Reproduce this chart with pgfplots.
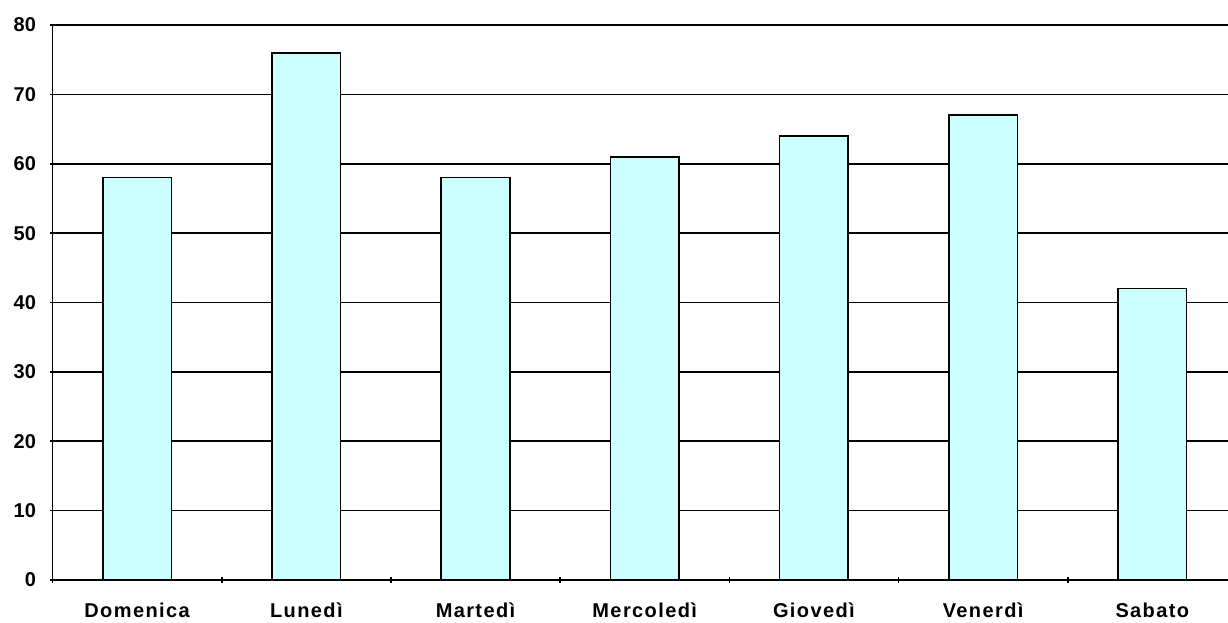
\documentclass[border=0pt]{standalone}
\usepackage{pgfplots}
\pgfplotsset{compat=1.18}
\usepackage{fontspec}
\setmainfont{Liberation Sans}
\newfontfamily\spaced[LetterSpace=7]{Liberation Sans}
\definecolor{barcyan}{RGB}{204,255,255}

\begin{document}
\begin{tikzpicture}
  \path[use as bounding box] (0,0) rectangle (1228pt,622pt);
  \begin{axis}[
      at={(52.5pt,42pt)}, anchor=south west,
      scale only axis,
      width=1175.5pt, height=555pt,
      xmin=-0.5, xmax=6.447,
      ymin=0, ymax=80,
      ytick={0,10,...,80},
      xtick={0,...,6},
      xticklabels={Domenica, Lunedì, Martedì, Mercoledì, Giovedì, Venerdì, Sabato},
      minor xtick={-0.5,0.5,...,5.5},
      major x tick style={draw=none},
      tick align=outside,
      major tick length=6pt,
      minor tick length=6pt,
      tick style={black, line width=1.6pt},
      axis lines=left,
      axis line style={-, black, line width=1.6pt},
      ymajorgrids=true,
      grid style={black, line width=1.6pt},
      /pgf/number format/assume math mode=true,
      yticklabel style={font=\fontsize{20}{23}\selectfont\bfseries, xshift=-10pt},
      xticklabel style={font=\fontsize{20}{23}\selectfont\spaced\bfseries, yshift=-16pt, anchor=north},
      clip=false,
    ]
    \addplot[ybar, bar width=68.5pt, fill=barcyan, draw=black, line width=1.6pt]
      coordinates {
        (0, 58)
        (1, 76)
        (2, 58)
        (3, 61)
        (4, 64)
        (5, 67)
        (6, 42)
      };
  \end{axis}
\end{tikzpicture}
\end{document}
